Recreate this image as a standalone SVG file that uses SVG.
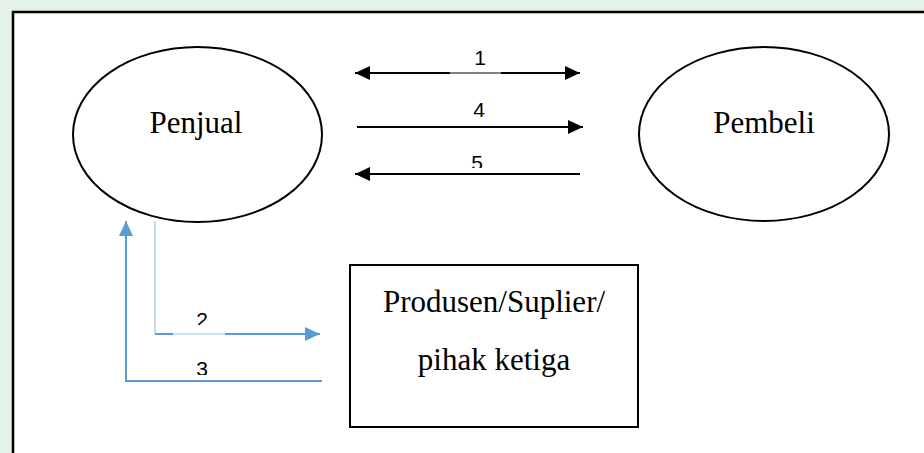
<svg xmlns="http://www.w3.org/2000/svg" width="924" height="453" viewBox="0 0 924 453">
  <style>
    .shape { fill: #ffffff; stroke: #000000; stroke-width: 2; }
    .serif { font-family: "Liberation Serif", "Times New Roman", serif; font-size: 31px; fill: #000000; }
    .num { font-family: "Liberation Sans", Arial, sans-serif; font-size: 21px; fill: #000000; }
    .black { stroke: #000000; stroke-width: 2; fill: none; }
    .blue { stroke: #5b9bd5; stroke-width: 2; fill: none; }
    .blue-thin { stroke: #9dc3e6; stroke-width: 1.2; fill: none; }
  </style>
  <defs>
    <marker id="ahB" viewBox="0 0 15 14" refX="15" refY="7" markerWidth="15" markerHeight="14" markerUnits="userSpaceOnUse" orient="auto-start-reverse">
      <path d="M0,0 L15,7 L0,14 Z" fill="#000000"/>
    </marker>
    <marker id="ahBlue" viewBox="0 0 15 14" refX="15" refY="7" markerWidth="15" markerHeight="14" markerUnits="userSpaceOnUse" orient="auto-start-reverse">
      <path d="M0,0 L15,7 L0,14 Z" fill="#5b9bd5"/>
    </marker>
    <clipPath id="clip5"><rect x="440" y="140" width="80" height="28"/></clipPath>
    <clipPath id="clip2"><rect x="170" y="295" width="60" height="30"/></clipPath>
    <clipPath id="clip3"><rect x="170" y="350" width="60" height="25"/></clipPath>
  </defs>

  <!-- background outside frame -->
  <rect x="0" y="0" width="924" height="453" fill="#e4f2e8"/>
  <rect x="13" y="12" width="920" height="450" fill="#ffffff" stroke="#000000" stroke-width="2.5"/>

  <g id="penjual">
    <ellipse class="shape" cx="197.5" cy="134.5" rx="124.5" ry="87.5"/>
    <text class="serif" x="196" y="133" text-anchor="middle">Penjual</text>
  </g>

  <g id="pembeli">
    <ellipse class="shape" cx="764" cy="134" rx="125" ry="87"/>
    <text class="serif" x="764" y="133" text-anchor="middle">Pembeli</text>
  </g>

  <g id="produsen">
    <rect class="shape" x="350" y="265" width="288" height="162"/>
    <text class="serif" x="494" y="312" text-anchor="middle">Produsen/Suplier/</text>
    <text class="serif" x="494" y="370" text-anchor="middle">pihak ketiga</text>
  </g>

  <g id="connectors">
    <!-- 1: double arrow -->
    <line class="black" x1="355" y1="73" x2="450" y2="73" marker-start="url(#ahB)"/>
    <line x1="450" y1="73" x2="501" y2="73" stroke="#000000" stroke-width="1"/>
    <line class="black" x1="501" y1="73" x2="580" y2="73" marker-end="url(#ahB)"/>
    <text class="num" x="480" y="65" text-anchor="middle">1</text>

    <!-- 4: to Pembeli -->
    <line class="black" x1="357" y1="127" x2="583" y2="127" marker-end="url(#ahB)"/>
    <text class="num" x="479" y="117" text-anchor="middle">4</text>

    <!-- 5: to Penjual -->
    <line class="black" x1="580" y1="174" x2="355" y2="174" marker-end="url(#ahB)"/>
    <text class="num" x="477" y="170" text-anchor="middle" clip-path="url(#clip5)">5</text>

    <!-- 2: Penjual to Produsen -->
    <line class="blue-thin" x1="155" y1="221" x2="155" y2="334"/>
    <line class="blue" x1="155" y1="334" x2="173" y2="334"/>
    <line x1="173" y1="334" x2="225" y2="334" stroke="#9dc3e6" stroke-width="1"/>
    <line class="blue" x1="225" y1="334" x2="320" y2="334" marker-end="url(#ahBlue)"/>
    <text class="num" x="202" y="327" text-anchor="middle" clip-path="url(#clip2)">2</text>

    <!-- 3: Produsen to Penjual -->
    <polyline class="blue" points="322,381 126,381 126,221" marker-end="url(#ahBlue)"/>
    <text class="num" x="202" y="376" text-anchor="middle" clip-path="url(#clip3)">3</text>
  </g>
</svg>
